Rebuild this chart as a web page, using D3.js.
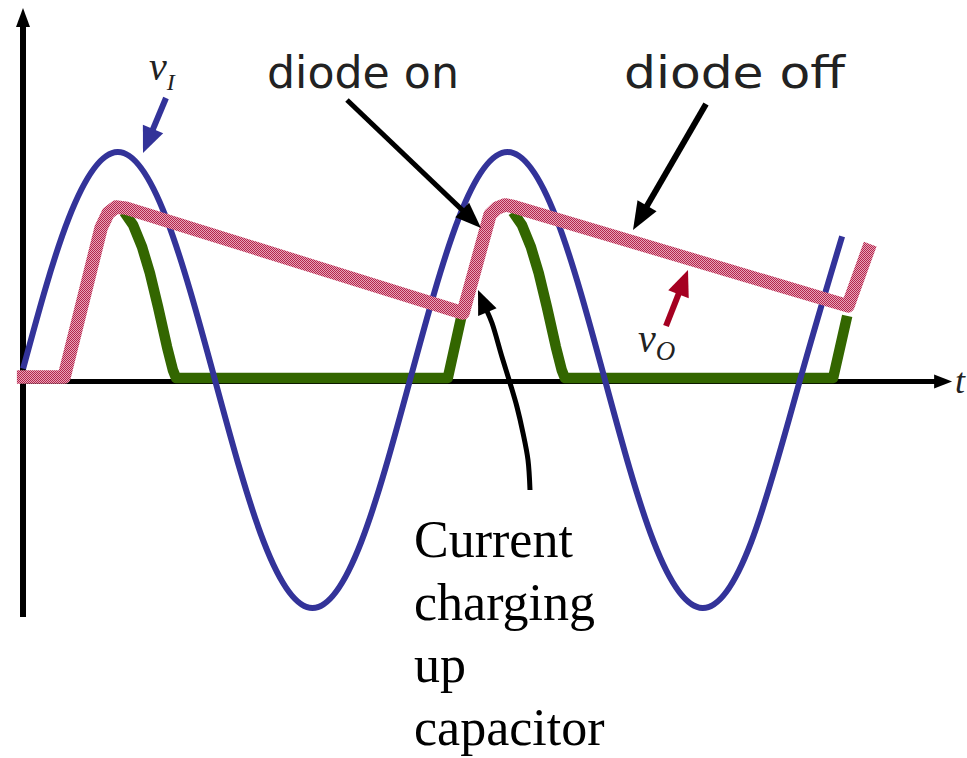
<!DOCTYPE html>
<html><head><meta charset="utf-8">
<script src="https://cdn.jsdelivr.net/npm/d3@7"></script>
<style>html,body{margin:0;padding:0;background:#fff;overflow:hidden}</style>
</head><body>
<svg id="c" width="967" height="758"></svg>
<script>
// time in periods of v_I, voltage normalised to the peak of v_I
const vI_t = [0.008,0.125,0.25,0.375,0.5,0.625,0.75,0.875,1,1.125,1.25,1.375,1.5,1.625,1.75,1.875,2,2.108];
const vI_v = [0.05,0.71,1,0.71,0,-0.71,-1,-0.71,0,0.71,1,0.71,0,-0.71,-1,-0.71,0,0.63];

const vO_t = [-0.008,0.113,0.208,0.226,0.246,0.272,1.136,1.205,1.223,1.244,1.269,2.123,2.180];
const vO_v = [0.013,0.013,0.667,0.732,0.759,0.754,0.294,0.724,0.754,0.768,0.759,0.325,0.596];

const iD1_t = [0.267,0.290,0.313,0.333,0.354,0.377,0.392,0.400,1.097,1.131];
const iD1_v = [0.737,0.680,0.583,0.469,0.320,0.145,0.044,0.009,0.009,0.272];
const iD2_t = [1.264,1.287,1.310,1.330,1.351,1.374,1.389,1.397,2.085,2.121];
const iD2_v = [0.737,0.680,0.583,0.469,0.320,0.145,0.044,0.009,0.009,0.281];

const axisT = [0, 2.39];
const axisV = [-1.04, 1.6];

const topLabels = ["diode on", "diode off"];
const noteLines = ["Current", "charging", "up", "capacitor"];

const svg = d3.select("#c");
const x = d3.scaleLinear().domain([0, 1]).range([20, 410]);
const y = d3.scaleLinear().domain([-1, 1]).range([608, 152]);

const defs = svg.append("defs");
const pat = defs.append("pattern").attr("id", "hatch").attr("patternUnits", "userSpaceOnUse")
  .attr("width", 2).attr("height", 2);
pat.append("rect").attr("width", 2).attr("height", 2).attr("fill", "#e8a4b7");
pat.append("rect").attr("width", 1).attr("height", 1).attr("fill", "#b3264d");
pat.append("rect").attr("x", 1).attr("y", 1).attr("width", 1).attr("height", 1).attr("fill", "#b3264d");

const zip = (t, v) => t.map((d, i) => [d, v[i]]);
const lin = d3.line().x(d => x(d[0])).y(d => y(d[1]));
const smooth = d3.line().x(d => x(d[0])).y(d => y(d[1])).curve(d3.curveNatural);

function arrowHead(g, tip, from, len, wid, color) {
  const dx = tip[0] - from[0], dy = tip[1] - from[1];
  const L = Math.hypot(dx, dy), ux = dx / L, uy = dy / L;
  const bx = tip[0] - ux * len, by = tip[1] - uy * len;
  const px = -uy * wid / 2, py = ux * wid / 2;
  g.append("path").attr("d", `M${tip[0]},${tip[1]}L${bx + px},${by + py}L${bx - px},${by - py}Z`)
    .attr("fill", color);
  return [bx + ux * 2, by + uy * 2];
}
function arrow(pts, color, w, len, wid, curved) {
  const g = svg.append("g");
  const tip = pts[pts.length - 1], prev = pts[pts.length - 2];
  const base = arrowHead(g, tip, prev, len, wid, color);
  const p = pts.slice(0, -1).concat([base]);
  const ln = d3.line().curve(curved ? d3.curveCatmullRom : d3.curveLinear);
  g.insert("path", ":first-child").attr("d", ln(p)).attr("fill", "none").attr("stroke", color)
    .attr("stroke-width", w).attr("stroke-linecap", "butt");
}

// axes
const ax = svg.append("g");
const y0 = y(0) + 1.5;
ax.append("line").attr("x1", 23).attr("x2", 23).attr("y1", y(axisV[0])).attr("y2", 22)
  .attr("stroke", "#000").attr("stroke-width", 6);
ax.append("path").attr("d", `M23,8L30,27L16,27Z`).attr("fill", "#000");
ax.append("line").attr("x1", 20).attr("x2", x(axisT[1]) - 16).attr("y1", y0).attr("y2", y0)
  .attr("stroke", "#000").attr("stroke-width", 5);
ax.append("path").attr("d", `M${x(axisT[1])},${y0}L${x(axisT[1]) - 18},${y0 - 7}L${x(axisT[1]) - 18},${y0 + 7}Z`).attr("fill", "#000");

// diode current (green)
[zip(iD1_t, iD1_v), zip(iD2_t, iD2_v)].forEach(d => {
  svg.append("path").attr("d", lin(d)).attr("fill", "none").attr("stroke", "#336600")
    .attr("stroke-width", 10.5).attr("stroke-linejoin", "round");
});

// input sine (blue)
svg.append("path").attr("d", smooth(zip(vI_t, vI_v))).attr("fill", "none")
  .attr("stroke", "#333399").attr("stroke-width", 6);

// output (pink hatched)
svg.append("path").attr("d", lin(zip(vO_t, vO_v))).attr("fill", "none")
  .attr("stroke", "url(#hatch)").attr("stroke-width", 13.5).attr("stroke-linejoin", "round");

// annotation arrows
arrow([[166, 98], [143, 153]], "#333399", 6, 26, 22, false);
arrow([[347, 100], [481, 228]], "#000", 5, 26, 20, false);
arrow([[706, 104], [633, 230]], "#000", 6, 28, 22, false);
arrow([[666, 326], [688, 270]], "#a50021", 6, 26, 22, false);
arrow([[530, 490], [528, 460], [523, 433], [517, 407], [510, 383], [502, 357], [492, 323], [478, 290]], "#000", 5, 24, 20, true);

// labels
svg.append("text").attr("x", 267).attr("y", 88).attr("font-family", "DejaVu Sans")
  .attr("font-size", 45).attr("textLength", 192).attr("lengthAdjust", "spacingAndGlyphs")
  .attr("fill", "#222").text(topLabels[0]);
svg.append("text").attr("x", 624).attr("y", 88).attr("font-family", "DejaVu Sans")
  .attr("font-size", 45).attr("textLength", 221).attr("lengthAdjust", "spacingAndGlyphs")
  .attr("fill", "#222").text(topLabels[1]);

const serif = "Liberation Serif, Times New Roman, serif";
const tI = svg.append("text").attr("x", 149).attr("y", 80).attr("font-family", serif)
  .attr("font-style", "italic").attr("fill", "#222");
tI.append("tspan").attr("font-size", 40).text("v");
tI.append("tspan").attr("font-size", 24).attr("dy", 10).text("I");

const tO = svg.append("text").attr("x", 638).attr("y", 352).attr("font-family", serif)
  .attr("font-style", "italic").attr("fill", "#222");
tO.append("tspan").attr("font-size", 40).text("v");
tO.append("tspan").attr("font-size", 27).attr("dy", 8).text("O");

svg.append("text").attr("x", 955).attr("y", 393).attr("font-family", serif)
  .attr("font-style", "italic").attr("font-size", 36).attr("fill", "#222").text("t");

noteLines.forEach((s, i) => {
  svg.append("text").attr("x", 414).attr("y", 557 + i * 62.5).attr("font-family", serif)
    .attr("font-size", 52).attr("fill", "#000").text(s);
});
</script>
</body></html>
